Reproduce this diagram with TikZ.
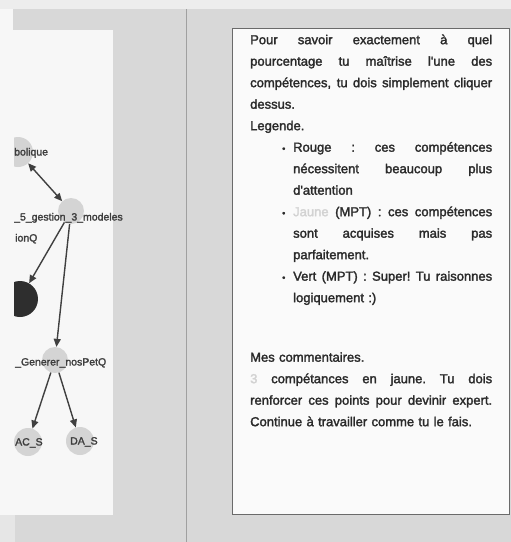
\documentclass[tikz,border=0pt]{standalone}
\usepackage{fontspec}
\setmainfont{Liberation Sans}
\newfontfamily\inkfont{Liberation Sans}[FakeBold=2]
\usetikzlibrary{arrows.meta}

\definecolor{pagegrey}{HTML}{D8D8D8}
\definecolor{stripgrey}{HTML}{EDEDED}
\definecolor{panelwhite}{HTML}{F7F7F7}
\definecolor{cornergrey}{HTML}{E6E6E6}
\definecolor{dividergrey}{HTML}{A0A0A0}
\definecolor{boxborder}{HTML}{6A6A6A}
\definecolor{boxfill}{HTML}{FAFAFA}
\definecolor{inkgrey}{HTML}{2A2A2A}
\definecolor{faintyellow}{HTML}{D2D2D2}
\definecolor{nodegrey}{HTML}{D4D4D4}
\definecolor{darknode}{HTML}{2E2E2E}
\definecolor{edgegrey}{HTML}{404040}
\definecolor{labelgrey}{HTML}{3E3E3E}

% a line stretched to the full measure
\newcommand\jline[2]{\makebox[#1][s]{\spaceskip=0.278em plus 1fil\relax
  \xspaceskip=0.278em plus 1fil\relax #2}}
% small bullet and a justified list line
\newcommand\bul{{\fontsize{9}{9}\selectfont\textbullet}}
\newcommand\itemline[1]{\hspace*{32pt}\makebox[11pt][l]{\bul}\jline{199pt}{#1}}
\newcommand\itemcont{\hspace*{43pt}}

\tikzset{
  graphnode/.style={circle, fill=nodegrey, minimum size=26pt, inner sep=0pt},
  darkgraphnode/.style={circle, fill=darknode, minimum size=36pt, inner sep=0pt},
  nodelabel/.style={anchor=base west, inner sep=0pt, text=labelgrey,
    font=\inkfont\fontsize{10.5}{10.5}\selectfont},
  edge/.style={draw=edgegrey, line width=1.4pt,
    -{Triangle[length=8pt,width=7pt]}},
  twowayedge/.style={edge, {Triangle[length=8pt,width=7pt]}-{Triangle[length=8pt,width=7pt]}},
  commentbox/.style={draw=boxborder, line width=0.9pt, fill=boxfill,
    minimum width=277pt, minimum height=486pt, inner sep=0pt},
}

\begin{document}
\begin{tikzpicture}[x=1pt,y=-1pt]
\useasboundingbox (0,0) rectangle (511,542);

% page background and panels
\fill[pagegrey] (0,0) rectangle (511,542);
\fill[stripgrey] (0,0) rectangle (511,9);
\fill[panelwhite] (0,9) rectangle (13,30);
\fill[panelwhite] (0,30) rectangle (113,515);
\fill[cornergrey] (0,515) rectangle (15,542);
\draw[dividergrey, line width=1pt] (186,9) -- (186,542);

% competence graph
\begin{scope}
\clip (14,0) rectangle (200,542);
\node[graphnode, minimum size=30pt] (symb) at (18,152) {};
\node[graphnode] (gestion) at (71,211) {};
\node[darkgraphnode] (dark) at (20,299) {};
\node[graphnode] (generer) at (55,360) {};
\node[graphnode, minimum size=28pt] (acs) at (28,442) {};
\node[graphnode, minimum size=28pt] (das) at (80,441) {};

\node[nodelabel] (symblabel) at (14,155.5) {bolique};
\node[nodelabel] (gestionlabel) at (14,220.5) {\_5\_gestion\_3\_modeles};
\node[nodelabel] (ionlabel) at (15,241.5) {ionQ};
\node[nodelabel] (genererlabel) at (15,365.5) {\_Generer\_nosPetQ};
\node[nodelabel] (acslabel) at (15,445.5) {AC\_S};
\node[nodelabel] (daslabel) at (70,444.5) {DA\_S};

\draw[twowayedge] (symb) -- (gestion);
\draw[edge] (gestion) -- (dark);
\draw[edge] (gestion) -- (generer);
\draw[edge] (generer) -- (acs);
\draw[edge] (generer) -- (das);
\end{scope}

% comment panel
\node[commentbox, anchor=north west] (box) at (232,28) {};
\node[anchor=north west, inner sep=0pt, text width=242pt, align=left,
      text=inkgrey, font=\inkfont\fontsize{13}{21.5}\selectfont] (comments) at (250,34) {%
\rule{0pt}{10pt}\jline{242pt}{Pour savoir exactement à quel}\\
\jline{242pt}{pourcentage tu maîtrise l'une des}\\
\jline{242pt}{compétences, tu dois simplement cliquer}\\
dessus.\\
Legende.\\
\itemline{Rouge : ces compétences}\\
\itemcont\jline{199pt}{nécessitent beaucoup plus}\\
\itemcont d'attention\\
\itemline{\textcolor{faintyellow}{Jaune} (MPT) : ces compétences}\\
\itemcont\jline{199pt}{sont acquises mais pas}\\
\itemcont parfaitement.\\
\itemline{Vert (MPT) : Super! Tu raisonnes}\\
\itemcont logiquement :)\\[38pt]
Mes commentaires.\\
\jline{242pt}{\textcolor{faintyellow}{3} compétances en jaune. Tu dois}\\
\jline{242pt}{renforcer ces points pour devinir expert.}\\
Continue à travailler comme tu le fais.};
\end{tikzpicture}
\end{document}
